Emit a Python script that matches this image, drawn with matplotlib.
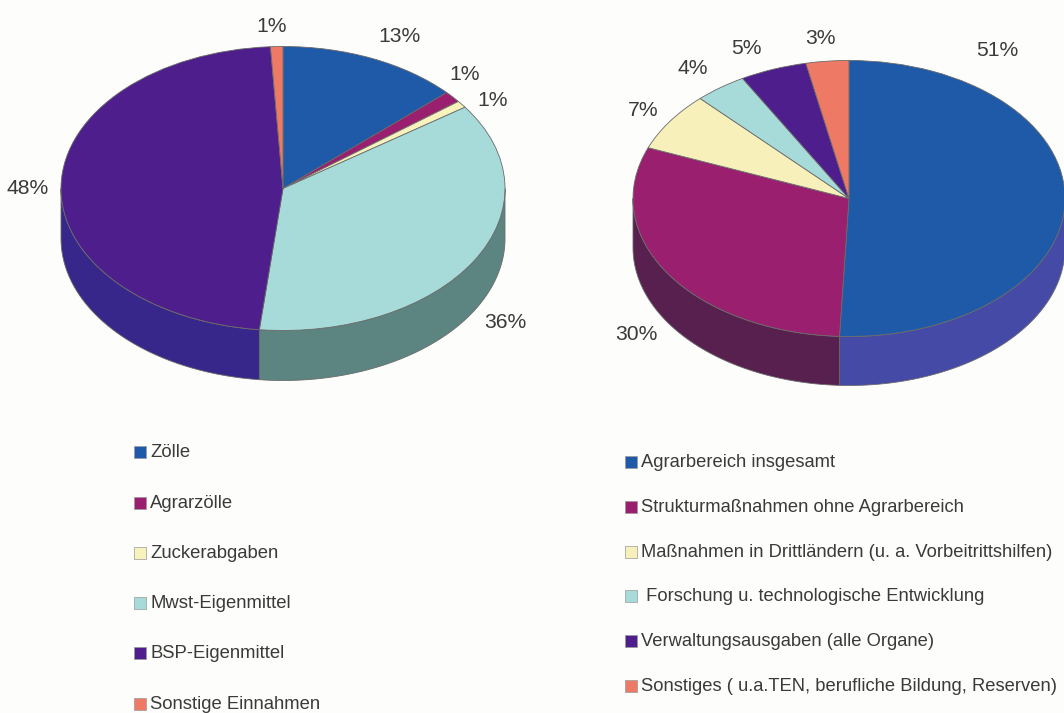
import numpy as np
import matplotlib
matplotlib.use('Agg')
import matplotlib.pyplot as plt
from matplotlib.patches import Rectangle

plt.rcParams['font.family'] = ['Liberation Sans', 'DejaVu Sans']

# left pie
income_labels = ['Zölle', 'Agrarzölle', 'Zuckerabgaben', 'Mwst-Eigenmittel', 'BSP-Eigenmittel', 'Sonstige Einnahmen']
income_values = [13.2, 1.3, 0.8, 36.4, 47.4, 0.9]
income_pct = ['13%', '1%', '1%', '36%', '48%', '1%']
income_colors = ['#1f5aa8', '#9a1f6e', '#f8f2bd', '#a6dbd9', '#4d1e8c', '#ee7a66']
income_sides = ['#2d3f8a', '#5a1a55', '#a8a585', '#5c8582', '#38278a', '#a05a55']

# right pie
spend_labels = ['Agrarbereich insgesamt', 'Strukturmaßnahmen ohne Agrarbereich',
                'Maßnahmen in Drittländern (u. a. Vorbeitrittshilfen)',
                ' Forschung u. technologische Entwicklung',
                'Verwaltungsausgaben (alle Organe)',
                'Sonstiges ( u.a.TEN, berufliche Bildung, Reserven)']
spend_values = [50.7, 30.3, 6.9, 3.9, 5.0, 3.2]
spend_pct = ['51%', '30%', '7%', '4%', '5%', '3%']
spend_colors = ['#1f5aa8', '#9a1f6e', '#f8f0bb', '#a6dbd9', '#4d1e8c', '#ee7a66']
spend_sides = ['#454aa6', '#57204f', '#a8a585', '#5c8582', '#38278a', '#a05a55']

W, H = 1064, 713
fig = plt.figure(figsize=(W / 100, H / 100), dpi=100)
fig.patch.set_facecolor('#fdfdfb')

# pixel coordinate layer for text and legend boxes
base = fig.add_axes([0, 0, 1, 1])
base.set_xlim(0, W)
base.set_ylim(H, 0)
base.axis('off')


def draw_pie(values, colors, sides, cx, cy, rx, ry, depth):
    ax = fig.add_axes([0, 0, 1, 1])
    ax.patch.set_alpha(0)
    ax.pie(values, colors=colors, startangle=90, counterclock=False, radius=1,
           wedgeprops={'edgecolor': '#6a6a6a', 'linewidth': 0.6, 'zorder': 3})
    ax.set_aspect('auto')
    ax.set_xlim(-cx / rx, (W - cx) / rx)
    ax.set_ylim((cy - H) / ry, cy / ry)
    ax.axis('off')
    # side wall, only the front half shows
    d = depth / ry
    edges = np.cumsum([0] + list(values)) / sum(values) * 360
    for i in range(len(values)):
        a0 = max(edges[i], 90)
        a1 = min(edges[i + 1], 270)
        if a1 <= a0:
            continue
        t = np.radians(np.linspace(a0, a1, 80))
        x = np.sin(t)
        y = np.cos(t)
        ax.fill(np.r_[x, x[::-1]], np.r_[y, y[::-1] - d], facecolor=sides[i],
                edgecolor='#6a6a6a', linewidth=0.6, zorder=1)


draw_pie(income_values, income_colors, income_sides, 283, 188.5, 222, 142, 50)
draw_pie(spend_values, spend_colors, spend_sides, 849, 198.5, 216, 138, 49)

# percent labels
text_color = '#3a3a3a'
income_xy = [(400, 37), (465, 75), (493, 100), (505, 323), (28, 189), (272, 26)]
for s, (x, y) in zip(income_pct, income_xy):
    base.text(x, y, s, fontsize=15.2, color=text_color, ha='center', va='center')
spend_xy = [(997, 51), (636, 335), (643, 110), (693, 69), (746, 49), (820, 38)]
for s, (x, y) in zip(spend_pct, spend_xy):
    base.text(x, y, s, fontsize=15.2, color=text_color, ha='center', va='center')

# legends
income_y = [452, 503, 553, 603, 653, 704]
for s, c, y in zip(income_labels, income_colors, income_y):
    base.add_patch(Rectangle((134, y - 6), 12, 12, facecolor=c, edgecolor='#999999', linewidth=0.5))
    base.text(150, y + 0.5, s, fontsize=13.3, color=text_color, ha='left', va='center')

spend_y = [462, 507, 552, 596, 641, 686]
for s, c, y in zip(spend_labels, spend_colors, spend_y):
    base.add_patch(Rectangle((625, y - 6), 12, 12, facecolor=c, edgecolor='#999999', linewidth=0.5))
    base.text(641, y + 0.5, s, fontsize=13.2, color=text_color, ha='left', va='center')

fig.savefig('out.png', dpi=100)
